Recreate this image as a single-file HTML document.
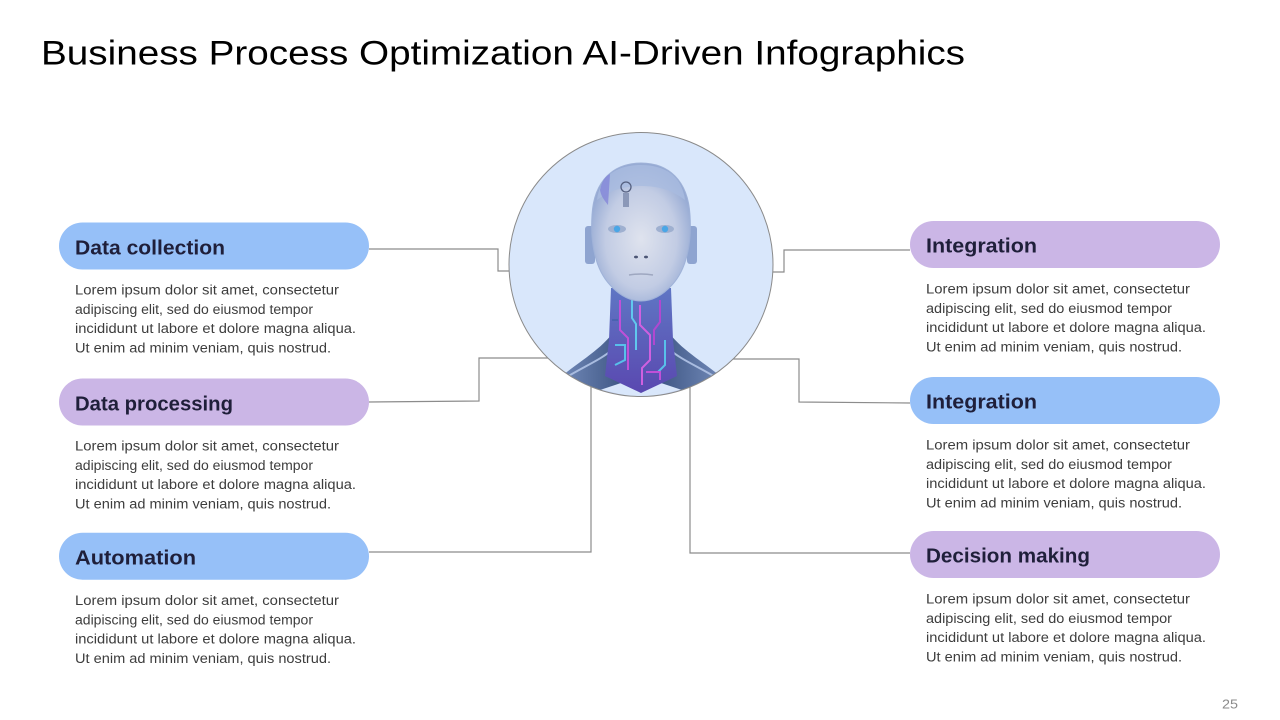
<!DOCTYPE html>
<html>
<head>
<meta charset="utf-8">
<style>
html,body{margin:0;padding:0;background:#fff;}
svg{display:block;}
text{font-family:"Liberation Sans",sans-serif;}
.lbl{font-weight:bold;font-size:20px;fill:#1f1f3a;}
.bd{font-size:14.2px;fill:#3d3d3d;}
</style>
</head>
<body>
<svg width="1280" height="720" viewBox="0 0 1280 720" xmlns="http://www.w3.org/2000/svg">
<defs>
  <clipPath id="cc"><circle cx="641" cy="264.5" r="132"/></clipPath>
  <radialGradient id="face" cx="0.5" cy="0.55" r="0.6">
    <stop offset="0" stop-color="#dfe3ee"/>
    <stop offset="0.6" stop-color="#c2cce4"/>
    <stop offset="1" stop-color="#8aa1cf"/>
  </radialGradient>
  <linearGradient id="neck" x1="0" y1="0" x2="0" y2="1">
    <stop offset="0" stop-color="#5f76c4"/>
    <stop offset="1" stop-color="#5a48b0"/>
  </linearGradient>
  <linearGradient id="shL" x1="0" y1="0" x2="1" y2="0">
    <stop offset="0" stop-color="#7890bf"/>
    <stop offset="1" stop-color="#3e5684"/>
  </linearGradient>
  <linearGradient id="shR" x1="1" y1="0" x2="0" y2="0">
    <stop offset="0" stop-color="#7890bf"/>
    <stop offset="1" stop-color="#3e5684"/>
  </linearGradient>
</defs>

<!-- Title -->
<text x="41" y="64.5" font-size="34" fill="#000" textLength="924" lengthAdjust="spacingAndGlyphs">Business Process Optimization AI-Driven Infographics</text>

<!-- Connectors -->
<g fill="none" stroke="#8c8c8c" stroke-width="1.2">
  <polyline points="369,249 498,249 498,271 530,271"/>
  <polyline points="369,402 479,401 479,358 580,358"/>
  <polyline points="369,552 591,552 591,370"/>
  <polyline points="910,250 784,250 784,272 750,272"/>
  <polyline points="910,403 799,402 799,359 700,359"/>
  <polyline points="910,553 690,553 690,370"/>
</g>

<!-- Center circle with robot -->
<circle cx="641" cy="264.5" r="132" fill="#d9e7fb"/>
<g clip-path="url(#cc)">
  <path d="M550,372 Q600,392 641,398 Q682,392 732,372 L732,410 L550,410 Z" fill="#c3d1ee"/>
  <path d="M552,384 C575,364 598,352 612,334 L624,382 L600,390 Z" fill="url(#shL)"/>
  <path d="M730,384 C707,364 684,352 670,334 L658,382 L682,390 Z" fill="url(#shR)"/>
  <path d="M565,378 C585,366 600,360 612,350" stroke="#a9bce0" stroke-width="2" fill="none"/>
  <path d="M717,378 C697,366 682,360 670,350" stroke="#a9bce0" stroke-width="2" fill="none"/>
  <path d="M611,288 L671,288 L673,340 L677,376 L641,393 L605,376 L609,340 Z" fill="url(#neck)"/>
  <g stroke-width="2" fill="none">
    <path d="M620,300 L620,330 L628,338 L628,370" stroke="#c050d8"/>
    <path d="M640,305 L640,325 L650,335 L650,360 L642,368 L642,385" stroke="#d060e0"/>
    <path d="M660,300 L660,322 L654,330 L654,345" stroke="#b048d0"/>
    <path d="M632,300 L632,318 L636,324 L636,350" stroke="#60c8ee"/>
    <path d="M615,345 L625,345 L625,360 L615,365" stroke="#58c0ea"/>
    <path d="M665,340 L665,365 L658,372" stroke="#58c0ea"/>
    <path d="M646,372 L660,372 L660,380" stroke="#c050d8"/>
    <path d="M612,320 L618,320" stroke="#4a62b0"/>
  </g>
  <rect x="585" y="226" width="10" height="38" rx="3" fill="#8ea4d0"/>
  <rect x="687" y="226" width="10" height="38" rx="3" fill="#8ea4d0"/>
  <path d="M641,163 C668,163 688,180 690,215 C692,245 686,270 672,285 C662,296 652,301 641,301 C630,301 620,296 610,285 C596,270 590,245 592,215 C594,180 614,163 641,163 Z" fill="url(#face)" stroke="#9fb2d8" stroke-width="1"/>
  <path d="M597,200 C600,175 618,165 641,165 C664,165 682,175 685,200 C672,190 658,186 641,186 C624,186 610,190 597,200 Z" fill="#a9bbe0" opacity="0.8"/>
  <path d="M600,190 C602,180 606,176 610,174 L608,205 C604,200 601,196 600,190 Z" fill="#7f7fd8" opacity="0.7"/>
  <circle cx="626" cy="187" r="5" fill="none" stroke="#556080" stroke-width="1.3"/>
  <rect x="623" y="193" width="6" height="14" fill="#8b98b8"/>
  <ellipse cx="617" cy="229" rx="9" ry="4" fill="#9fb0d0"/>
  <ellipse cx="665" cy="229" rx="9" ry="4" fill="#9fb0d0"/>
  <circle cx="617" cy="229" r="3.2" fill="#4aa6e6"/>
  <circle cx="665" cy="229" r="3.2" fill="#4aa6e6"/>
  <ellipse cx="636" cy="257" rx="2" ry="1.4" fill="#4c5675"/>
  <ellipse cx="646" cy="257" rx="2" ry="1.4" fill="#4c5675"/>
  <path d="M629,275 Q641,273 653,275" stroke="#9ea7c0" stroke-width="1.5" fill="none"/>
</g>
<circle cx="641" cy="264.5" r="132" fill="none" stroke="#8a8a8a" stroke-width="1"/>

<!-- Left pills -->
<rect x="59" y="222.5" width="310" height="47" rx="23.5" fill="#96c0f8"/>
<rect x="59" y="378.5" width="310" height="47" rx="23.5" fill="#cbb6e6"/>
<rect x="59" y="532.7" width="310" height="47" rx="23.5" fill="#96c0f8"/>

<text class="lbl" x="75" y="254.5" textLength="150" lengthAdjust="spacingAndGlyphs">Data collection</text>
<text class="lbl" x="75" y="410.5" textLength="158" lengthAdjust="spacingAndGlyphs">Data processing</text>
<text class="lbl" x="75" y="564.5" textLength="121" lengthAdjust="spacingAndGlyphs">Automation</text>

<g class="bd">
  <text class="bd" x="75" y="294.5" textLength="264" lengthAdjust="spacingAndGlyphs">Lorem ipsum dolor sit amet, consectetur</text>
  <text class="bd" x="75" y="313.8" textLength="238" lengthAdjust="spacingAndGlyphs">adipiscing elit, sed do eiusmod tempor</text>
  <text class="bd" x="75" y="333.1" textLength="281" lengthAdjust="spacingAndGlyphs">incididunt ut labore et dolore magna aliqua.</text>
  <text class="bd" x="75" y="352.4" textLength="256" lengthAdjust="spacingAndGlyphs">Ut enim ad minim veniam, quis nostrud.</text>

  <text class="bd" x="75" y="450.5" textLength="264" lengthAdjust="spacingAndGlyphs">Lorem ipsum dolor sit amet, consectetur</text>
  <text class="bd" x="75" y="469.8" textLength="238" lengthAdjust="spacingAndGlyphs">adipiscing elit, sed do eiusmod tempor</text>
  <text class="bd" x="75" y="489.1" textLength="281" lengthAdjust="spacingAndGlyphs">incididunt ut labore et dolore magna aliqua.</text>
  <text class="bd" x="75" y="508.4" textLength="256" lengthAdjust="spacingAndGlyphs">Ut enim ad minim veniam, quis nostrud.</text>

  <text class="bd" x="75" y="605" textLength="264" lengthAdjust="spacingAndGlyphs">Lorem ipsum dolor sit amet, consectetur</text>
  <text class="bd" x="75" y="624.3" textLength="238" lengthAdjust="spacingAndGlyphs">adipiscing elit, sed do eiusmod tempor</text>
  <text class="bd" x="75" y="643.6" textLength="281" lengthAdjust="spacingAndGlyphs">incididunt ut labore et dolore magna aliqua.</text>
  <text class="bd" x="75" y="662.9" textLength="256" lengthAdjust="spacingAndGlyphs">Ut enim ad minim veniam, quis nostrud.</text>
</g>

<!-- Right pills -->
<rect x="910" y="221" width="310" height="47" rx="23.5" fill="#cbb6e6"/>
<rect x="910" y="377" width="310" height="47" rx="23.5" fill="#96c0f8"/>
<rect x="910" y="531" width="310" height="47" rx="23.5" fill="#cbb6e6"/>

<text class="lbl" x="926" y="252.5" textLength="111" lengthAdjust="spacingAndGlyphs">Integration</text>
<text class="lbl" x="926" y="408.5" textLength="111" lengthAdjust="spacingAndGlyphs">Integration</text>
<text class="lbl" x="926" y="562.5" textLength="164" lengthAdjust="spacingAndGlyphs">Decision making</text>

<g class="bd">
  <text class="bd" x="926" y="293.5" textLength="264" lengthAdjust="spacingAndGlyphs">Lorem ipsum dolor sit amet, consectetur</text>
  <text class="bd" x="926" y="312.8" textLength="246" lengthAdjust="spacingAndGlyphs">adipiscing elit, sed do eiusmod tempor</text>
  <text class="bd" x="926" y="332.1" textLength="280" lengthAdjust="spacingAndGlyphs">incididunt ut labore et dolore magna aliqua.</text>
  <text class="bd" x="926" y="351.4" textLength="256" lengthAdjust="spacingAndGlyphs">Ut enim ad minim veniam, quis nostrud.</text>

  <text class="bd" x="926" y="449.5" textLength="264" lengthAdjust="spacingAndGlyphs">Lorem ipsum dolor sit amet, consectetur</text>
  <text class="bd" x="926" y="468.8" textLength="246" lengthAdjust="spacingAndGlyphs">adipiscing elit, sed do eiusmod tempor</text>
  <text class="bd" x="926" y="488.1" textLength="280" lengthAdjust="spacingAndGlyphs">incididunt ut labore et dolore magna aliqua.</text>
  <text class="bd" x="926" y="507.4" textLength="256" lengthAdjust="spacingAndGlyphs">Ut enim ad minim veniam, quis nostrud.</text>

  <text class="bd" x="926" y="603.5" textLength="264" lengthAdjust="spacingAndGlyphs">Lorem ipsum dolor sit amet, consectetur</text>
  <text class="bd" x="926" y="622.8" textLength="246" lengthAdjust="spacingAndGlyphs">adipiscing elit, sed do eiusmod tempor</text>
  <text class="bd" x="926" y="642.1" textLength="280" lengthAdjust="spacingAndGlyphs">incididunt ut labore et dolore magna aliqua.</text>
  <text class="bd" x="926" y="661.4" textLength="256" lengthAdjust="spacingAndGlyphs">Ut enim ad minim veniam, quis nostrud.</text>
</g>

<!-- Page number -->
<text x="1222" y="708.5" font-size="13" fill="#8a8a8a" textLength="16" lengthAdjust="spacingAndGlyphs">25</text>
</svg>
</body>
</html>
